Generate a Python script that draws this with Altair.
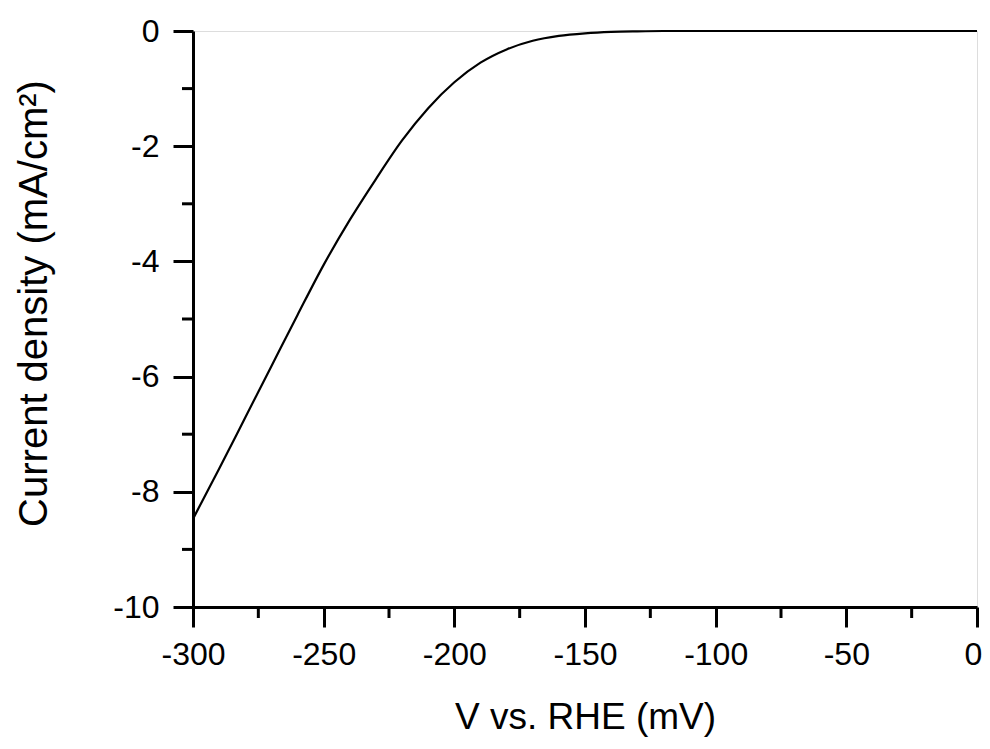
import altair as alt
import pandas as pd

potential_mv = [-300, -290, -280, -270, -260, -250, -240, -230, -220, -210,
                -200, -190, -180, -170, -160, -150, -140, -130, -120, -100, -50, 0]
current_density = [-8.47, -7.60, -6.71, -5.82, -4.93, -4.06, -3.28, -2.57, -1.90, -1.34,
                   -0.89, -0.55, -0.32, -0.17, -0.085, -0.04, -0.015, -0.005, 0.0, 0.0, 0.0, 0.0]
x_major = [-300, -250, -200, -150, -100, -50, 0]
x_minor = [-275, -225, -175, -125, -75, -25]
y_major = [-10, -8, -6, -4, -2, 0]
y_minor = [-9, -7, -5, -3, -1]

df = pd.DataFrame({"V": potential_mv, "J": current_density})

FONT = "Liberation Sans"
LBL = "datum.value < 0 ? '-' + format(-datum.value, 'd') : format(datum.value, 'd')"

xscale = alt.Scale(domain=[-300, 0], nice=False, zero=False)
yscale = alt.Scale(domain=[-10, 0], nice=False, zero=False)

line = alt.Chart(df).mark_line(color="black", strokeWidth=2.2, interpolate="monotone").encode(
    x=alt.X("V:Q", scale=xscale,
            axis=alt.Axis(title="V vs. RHE (mV)", values=x_major, labelExpr=LBL, labelFlush=False,
                          labelOffset={"condition": {"test": "datum.value == 0", "value": -4},
                                       "value": 0},
                          grid=False, domainColor="black", domainWidth=3,
                          tickColor="black", tickWidth=3, tickSize=20,
                          labelFont=FONT, labelFontSize=32, labelColor="black", labelPadding=12,
                          titleFont=FONT, titleFontSize=37, titleFontWeight="normal",
                          titleColor="black", titlePadding=29)),
    y=alt.Y("J:Q", scale=yscale,
            axis=alt.Axis(title="Current density (mA/cm²)", values=y_major, labelExpr=LBL,
                          labelFlush=False,
                          grid=False, domainColor="black", domainWidth=3,
                          tickColor="black", tickWidth=3, tickSize=20,
                          labelFont=FONT, labelFontSize=32, labelColor="black", labelPadding=14,
                          titleFont=FONT, titleFontSize=40, titleFontWeight="normal",
                          titleColor="black", titlePadding=58, titleY=272)),
)

mx = alt.Chart(pd.DataFrame({"V": x_minor})).mark_rule(color="black", strokeWidth=3).encode(
    x=alt.X("V:Q", scale=xscale), y=alt.value(576), y2=alt.value(587))
my = alt.Chart(pd.DataFrame({"J": y_minor})).mark_rule(color="black", strokeWidth=3).encode(
    y=alt.Y("J:Q", scale=yscale), x=alt.value(0), x2=alt.value(-11))

chart = alt.layer(line, mx, my).properties(
    width=784, height=576,
    autosize=alt.AutoSizeParams(type="none"),
    padding={"left": 185, "top": 23, "right": 5, "bottom": 134},
).configure_view(stroke=None).configure(background="white")

chart.save("out.html", embed_options={"renderer": "svg", "actions": False})
